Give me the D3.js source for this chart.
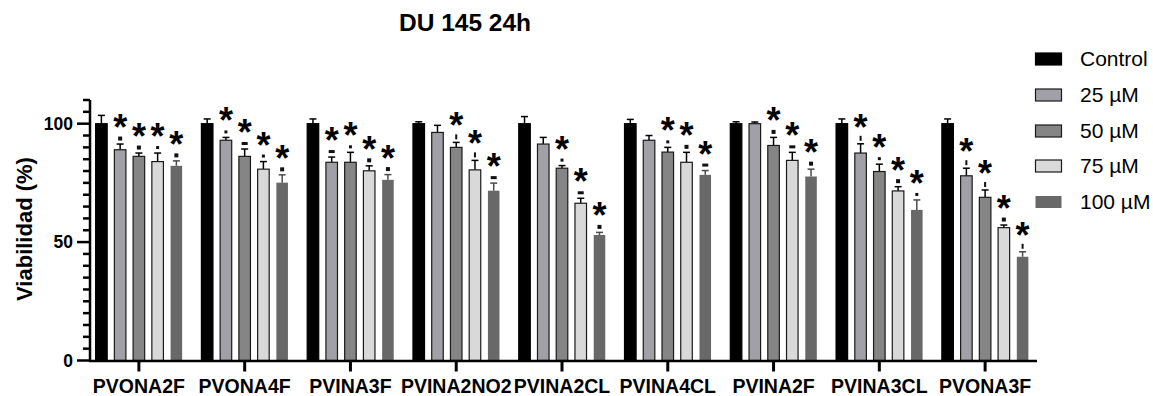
<!DOCTYPE html>
<html><head><meta charset="utf-8">
<script src="https://cdn.jsdelivr.net/npm/d3@7"></script>
<style>body{margin:0;background:#fff}svg{display:block}</style>
</head><body>
<svg id="c" width="1153" height="396"></svg>
<script>
const categories = ["PVONA2F","PVONA4F","PVINA3F","PVINA2NO2","PVINA2CL","PVINA4CL","PVINA2F","PVINA3CL","PVONA3F"];
const series = ["Control","25 µM","50 µM","75 µM","100 µM"];
const control = [100,100,100,100,100,100,100,100,100];
const c25  = [89.0,93.0,83.7,96.3,91.4,93.0,100,87.6,78.0];
const c50  = [86.2,86.2,83.7,90.0,81.2,88.0,90.8,79.8,68.9];
const c75  = [84.0,80.8,80.1,80.5,66.4,83.7,84.5,71.6,56.1];
const c100 = [82.2,75.1,76.3,71.7,53.0,78.4,77.7,63.6,43.8];
const errControl = [3.5,2.0,2.0,0.8,3.0,1.8,0.8,2.0,2.0];
const err25  = [2.4,1.2,2.2,3.0,2.8,2.0,0.7,3.9,3.2];
const err50  = [1.4,3.1,4.2,2.1,1.1,2.0,3.4,3.1,3.1];
const err75  = [3.6,3.2,2.1,4.0,2.1,4.2,3.4,1.8,1.1];
const err100 = [2.1,3.3,2.2,3.2,1.1,1.8,3.1,4.2,2.1];
// significance marks for 25/50/75/100 µM: "" none, s square, d dash, t dot, v vertical
const marks25  = ["s","t","d","","","","","v","v"];
const marks50  = ["s","d","t","v","t","t","s","t","v"];
const marks75  = ["t","t","s","v","d","s","d","s","s"];
const marks100 = ["s","s","s","d","s","d","s","t","v"];
const yTicks = [0,50,100];

const values = [control,c25,c50,c75,c100];
const errs = [errControl,err25,err50,err75,err100];
const marks = [null,marks25,marks50,marks75,marks100];
const fills = ["#000000","#a0a0a6","#858585","#d9d9d9","#686868"];
const strokes = ["#000000","#1a1a1a","#1a1a1a","#1a1a1a","none"];
const errColors = ["#000","#000","#000","#000","#4a4a4a"];

const svg = d3.select("#c");
const font = "'Liberation Sans', Arial, sans-serif";

const y = d3.scaleLinear().domain([0,110]).range([360.5,100]);
const x0 = d3.scaleBand().domain(categories).range([86,1038]).padding(0);
const x1 = d3.scaleBand().domain(series).range([0,x0.bandwidth()]).paddingInner(0.33).paddingOuter(0.487);

const data = [];
categories.forEach((c,i)=>series.forEach((s,j)=>data.push({c,s,j,v:values[j][i],e:errs[j][i],m:marks[j]?marks[j][i]:""})));

const g = svg.append("g");
data.forEach(d=>{
  const cx = x0(d.c)+x1(d.s)+x1.bandwidth()/2;
  const col = errColors[d.j];
  g.append("line").attr("x1",cx).attr("x2",cx).attr("y1",y(d.v)).attr("y2",y(d.v+d.e)).attr("stroke",col).attr("stroke-width",1.5);
  g.append("line").attr("x1",cx-3.5).attr("x2",cx+3.5).attr("y1",y(d.v+d.e)).attr("y2",y(d.v+d.e)).attr("stroke",col).attr("stroke-width",1.5);
});
g.selectAll("rect.bar").data(data).join("rect").attr("class","bar")
  .attr("x",d=>x0(d.c)+x1(d.s)+0.5)
  .attr("width",x1.bandwidth()-1)
  .attr("y",d=>y(d.v))
  .attr("height",d=>y(0)-y(d.v))
  .attr("fill",d=>fills[d.j])
  .attr("stroke",d=>strokes[d.j])
  .attr("stroke-width",1.2);

data.filter(d=>d.m).forEach(d=>{
  const cx = x0(d.c)+x1(d.s)+x1.bandwidth()/2;
  const top = y(d.v+d.e);
  const mc = top-5.5;
  const sz = {s:[4,4],d:[6,3],t:[3,3],v:[2,5]}[d.m];
  g.append("rect").attr("x",cx-sz[0]/2).attr("y",mc-sz[1]/2).attr("width",sz[0]).attr("height",sz[1]).attr("fill","#111");
  g.append("text").attr("x",cx).attr("y",top-4).attr("text-anchor","middle")
    .attr("font-family",font).attr("font-weight","bold").attr("font-size",36).attr("fill","#000").text("*");
});

const yAxisG = svg.append("g");
yAxisG.append("line").attr("x1",90).attr("x2",90).attr("y1",y(110)).attr("y2",y(0)+1.5).attr("stroke","#000").attr("stroke-width",2.5);
d3.range(0,111,5).forEach(t=>{
  const major = yTicks.includes(t);
  yAxisG.append("line").attr("x1",major?77:83).attr("x2",90).attr("y1",y(t)).attr("y2",y(t)).attr("stroke","#000").attr("stroke-width",2.5);
});
yTicks.forEach(t=>{
  yAxisG.append("text").attr("x",73).attr("y",y(t)+6).attr("text-anchor","end")
    .attr("font-family",font).attr("font-weight","bold").attr("font-size",17.5).text(t);
});
const xAxisG = svg.append("g");
xAxisG.append("line").attr("x1",89).attr("x2",1037).attr("y1",y(0)+0.5).attr("y2",y(0)+0.5).attr("stroke","#000").attr("stroke-width",2.5);
categories.forEach(c=>{
  const cx = x0(c)+x0.bandwidth()/2;
  xAxisG.append("line").attr("x1",cx).attr("x2",cx).attr("y1",y(0)).attr("y2",y(0)+11).attr("stroke","#000").attr("stroke-width",3);
  xAxisG.append("text").attr("x",cx).attr("y",393).attr("text-anchor","middle")
    .attr("font-family",font).attr("font-weight","bold").attr("font-size",19.5).text(c);
});

svg.append("text").attr("x",465).attr("y",31).attr("text-anchor","middle")
  .attr("font-family",font).attr("font-weight","bold").attr("font-size",24.5).text("DU 145 24h");
svg.append("text").attr("transform","translate(32,229) rotate(-90)").attr("text-anchor","middle")
  .attr("font-family",font).attr("font-weight","bold").attr("font-size",22).text("Viabilidad (%)");

const ly = [59,95,131,166,202];
series.forEach((s,j)=>{
  svg.append("rect").attr("x",1035.5).attr("y",ly[j]-6).attr("width",26).attr("height",12)
    .attr("fill",fills[j]).attr("stroke",strokes[j]).attr("stroke-width",1.2);
  svg.append("text").attr("x",1080).attr("y",ly[j]+7).attr("font-family",font).attr("font-size",21).text(s);
});
</script>
</body></html>
